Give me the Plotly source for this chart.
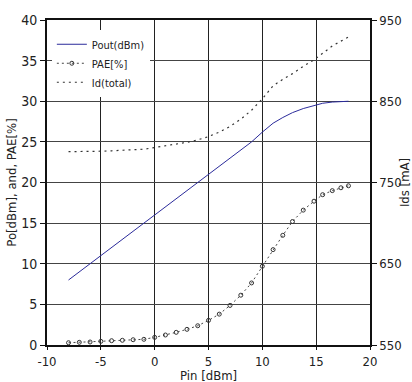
import plotly.graph_objects as go

pin = [-8, -7, -6, -5, -4, -3, -2, -1, 0, 1, 2, 3, 4, 5, 6, 7, 8, 9, 10,
       11.0, 11.9, 12.8, 13.8, 14.8, 15.6, 16.5, 17.3, 18.0]
pout = [8.0, 9.0, 10.0, 11.0, 12.0, 13.0, 14.0, 15.0, 16.0, 17.0, 18.0, 19.0, 20.0,
        21.0, 22.0, 23.0, 24.0, 25.0, 26.2, 27.3, 28.0, 28.6, 29.1, 29.5, 29.75, 29.9, 29.97, 30.0]
pae = [0.28, 0.33, 0.37, 0.45, 0.53, 0.58, 0.65, 0.7, 0.94, 1.23, 1.56, 1.93, 2.37,
       3.03, 3.8, 4.87, 6.13, 7.64, 9.69, 11.74, 13.5, 15.2, 16.6, 17.7, 18.5, 19.0, 19.35, 19.6]
ids = [788, 788, 788, 788.5, 789, 789.5, 790, 791, 793, 795, 797, 799.5, 802.5,
       806.5, 812, 819, 828, 839, 853, 869, 877, 884, 893, 901, 909, 918, 924, 929]

x_ticks = [-10, -5, 0, 5, 10, 15, 20]
y_ticks = [0, 5, 10, 15, 20, 25, 30, 35, 40]
y2_ticks = [550, 650, 750, 850, 950]

FONT = "DejaVu Sans Condensed, Liberation Sans Narrow, sans-serif"

fig = go.Figure()
fig.add_trace(go.Scatter(x=pin, y=pout, mode="lines", name="Pout(dBm)",
                         line=dict(color="#2b2b9b", width=1)))
fig.add_trace(go.Scatter(x=pin, y=pae, mode="lines+markers", name="PAE[%]",
                         line=dict(color="#444", width=1, dash="2px,3px"),
                         marker=dict(symbol="circle-open", size=4, color="#333",
                                     line=dict(width=1))))
fig.add_trace(go.Scatter(x=pin, y=ids, mode="lines", name="Id(total)", yaxis="y2",
                         line=dict(color="#333", width=1.2, dash="2px,4px")))

fig.update_layout(
    width=412, height=382,
    margin=dict(l=47, r=42, t=20, b=37, autoexpand=False),
    paper_bgcolor="white", plot_bgcolor="white",
    font=dict(family=FONT, size=14, color="#222"),
    showlegend=True,
    legend=dict(x=0.015, y=0.97, xanchor="left", yanchor="top",
                bgcolor="white", borderwidth=0,
                font=dict(family=FONT, size=11, color="#222"),
                tracegroupgap=0, itemwidth=30),
    xaxis=dict(range=[-10, 20], tickvals=x_ticks, ticktext=[str(v) for v in x_ticks],
               showgrid=True, gridcolor="#222", gridwidth=1,
               showline=True, linecolor="#111", linewidth=2, mirror=True,
               ticks="outside", ticklen=3, tickcolor="#111", automargin=False,
               tickfont=dict(size=13),
               zeroline=False),
    yaxis=dict(range=[0, 40], tickvals=y_ticks, ticktext=[str(v) for v in y_ticks],
               showgrid=True, gridcolor="#444", gridwidth=1,
               showline=True, linecolor="#111", linewidth=2,
               ticks="outside", ticklen=5, tickcolor="#111", automargin=False,
               title=dict(text="Po[dBm], and, PAE[%]", standoff=2, font=dict(size=13)),
               zeroline=False),
    yaxis2=dict(range=[550, 950], tickvals=y2_ticks, ticktext=[str(v) for v in y2_ticks],
                overlaying="y", side="right",
                showgrid=False, showline=True, linecolor="#111", linewidth=1.5,
                ticks="outside", ticklen=5, tickcolor="#111", automargin=False,
                tickfont=dict(size=13),
                title=dict(text="Ids [mA]", standoff=0, font=dict(size=13)),
                zeroline=False),
    annotations=[dict(text="Pin [dBm]", xref="paper", yref="paper",
                      x=0.5, y=-0.066, xanchor="center", yanchor="top",
                      showarrow=False, font=dict(family=FONT, size=13, color="#222"))],
)

fig.write_html("out.html")
